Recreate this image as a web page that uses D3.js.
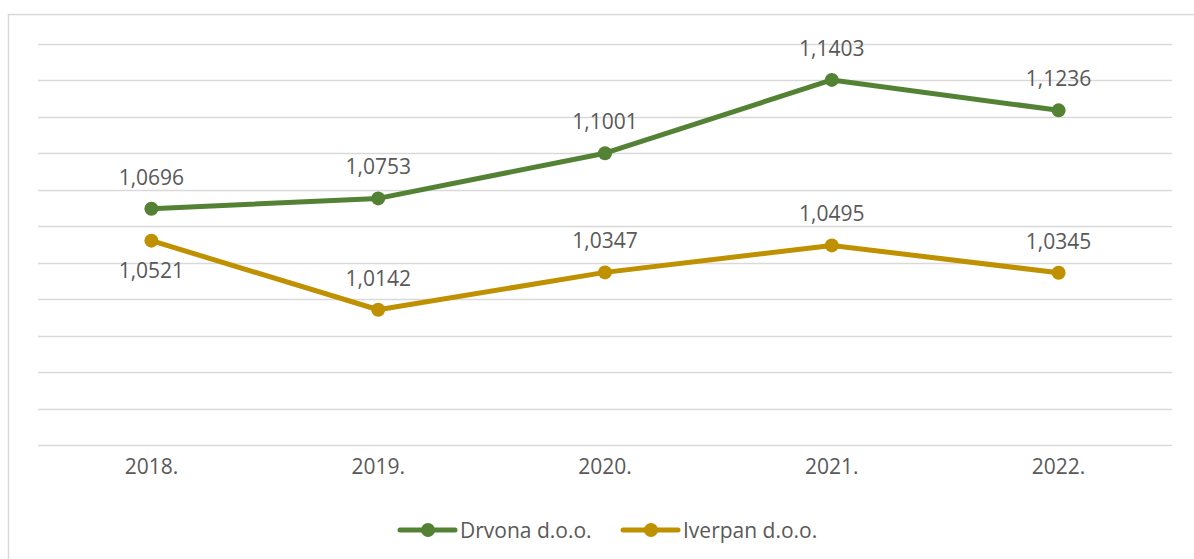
<!DOCTYPE html>
<html>
<head>
<meta charset="utf-8">
<script src="https://cdn.jsdelivr.net/npm/d3@7"></script>
<style>
    body { margin: 0; background: #fff; }
    text { font-family: "Open Sans", sans-serif; fill: #595959; }
</style>
</head>
<body>
<svg id="chart" width="1194" height="559"></svg>
<script>
// chart data
const years = ["2018.", "2019.", "2020.", "2021.", "2022."];
const drvona = [1.0696, 1.0753, 1.1001, 1.1403, 1.1236];
const iverpan = [1.0521, 1.0142, 1.0347, 1.0495, 1.0345];
const yTicks = [0.94, 0.96, 0.98, 1.00, 1.02, 1.04, 1.06, 1.08, 1.10, 1.12, 1.14, 1.16];

const series = [
    {name: "Drvona d.o.o.", values: drvona, color: "#548235", below: [false, false, false, false, false]},
    {name: "Iverpan d.o.o.", values: iverpan, color: "#BF9000", below: [true, false, false, false, false]}
];

const svg = d3.select("#chart");

// outer chart border
svg.append("rect")
    .attr("x", 8.5).attr("y", 14.5)
    .attr("width", 1200).attr("height", 600)
    .attr("fill", "none")
    .attr("stroke", "#d9d9d9")
    .attr("stroke-width", 1.5);

const x = d3.scaleBand().domain(years).range([38, 1172]);
const y = d3.scaleLinear().domain([0.94, 1.16]).range([445, 44]);

// gridlines
svg.append("g")
    .selectAll("line")
    .data(yTicks)
    .enter()
    .append("line")
    .attr("x1", 38).attr("x2", 1172)
    .attr("y1", function (d) { return Math.round(y(d)) + 0.5; })
    .attr("y2", function (d) { return Math.round(y(d)) + 0.5; })
    .attr("stroke", "#d9d9d9")
    .attr("stroke-width", 1.5);

// category axis
const xAxis = svg.append("g")
    .attr("transform", "translate(0,445)")
    .call(d3.axisBottom(x).tickSize(0).tickPadding(14));
xAxis.select(".domain").remove();
xAxis.selectAll("text")
    .attr("font-size", 21)
    .attr("font-family", "Open Sans, sans-serif")
    .attr("fill", "#595959");

function cx(i) {
    return x(years[i]) + x.bandwidth() / 2;
}

const line = d3.line()
    .x(function (d, i) { return cx(i); })
    .y(function (d) { return y(d); });

series.forEach(function (s) {
    const g = svg.append("g");

    g.append("path")
        .datum(s.values)
        .attr("d", line)
        .attr("fill", "none")
        .attr("stroke", s.color)
        .attr("stroke-width", 5)
        .attr("stroke-linejoin", "round")
        .attr("stroke-linecap", "round");

    g.selectAll("circle")
        .data(s.values)
        .enter()
        .append("circle")
        .attr("cx", function (d, i) { return cx(i); })
        .attr("cy", function (d) { return y(d); })
        .attr("r", 7)
        .attr("fill", s.color);

    g.selectAll("text")
        .data(s.values)
        .enter()
        .append("text")
        .attr("x", function (d, i) { return cx(i); })
        .attr("y", function (d, i) { return y(d) + (s.below[i] ? 37 : -24); })
        .attr("text-anchor", "middle")
        .attr("font-size", 21)
        .text(function (d) { return d.toFixed(4).replace(".", ","); });
});

// legend
const legendX = [400, 623];
const legend = svg.append("g")
    .selectAll("g")
    .data(series)
    .enter()
    .append("g")
    .attr("transform", function (d, i) { return "translate(" + legendX[i] + ",530)"; });

legend.append("line")
    .attr("x1", 0).attr("x2", 55)
    .attr("stroke", function (d) { return d.color; })
    .attr("stroke-width", 5)
    .attr("stroke-linecap", "round");

legend.append("circle")
    .attr("cx", 28)
    .attr("r", 7)
    .attr("fill", function (d) { return d.color; });

legend.append("text")
    .attr("x", 60)
    .attr("y", 7.5)
    .attr("font-size", 21)
    .text(function (d) { return d.name; });
</script>
</body>
</html>
